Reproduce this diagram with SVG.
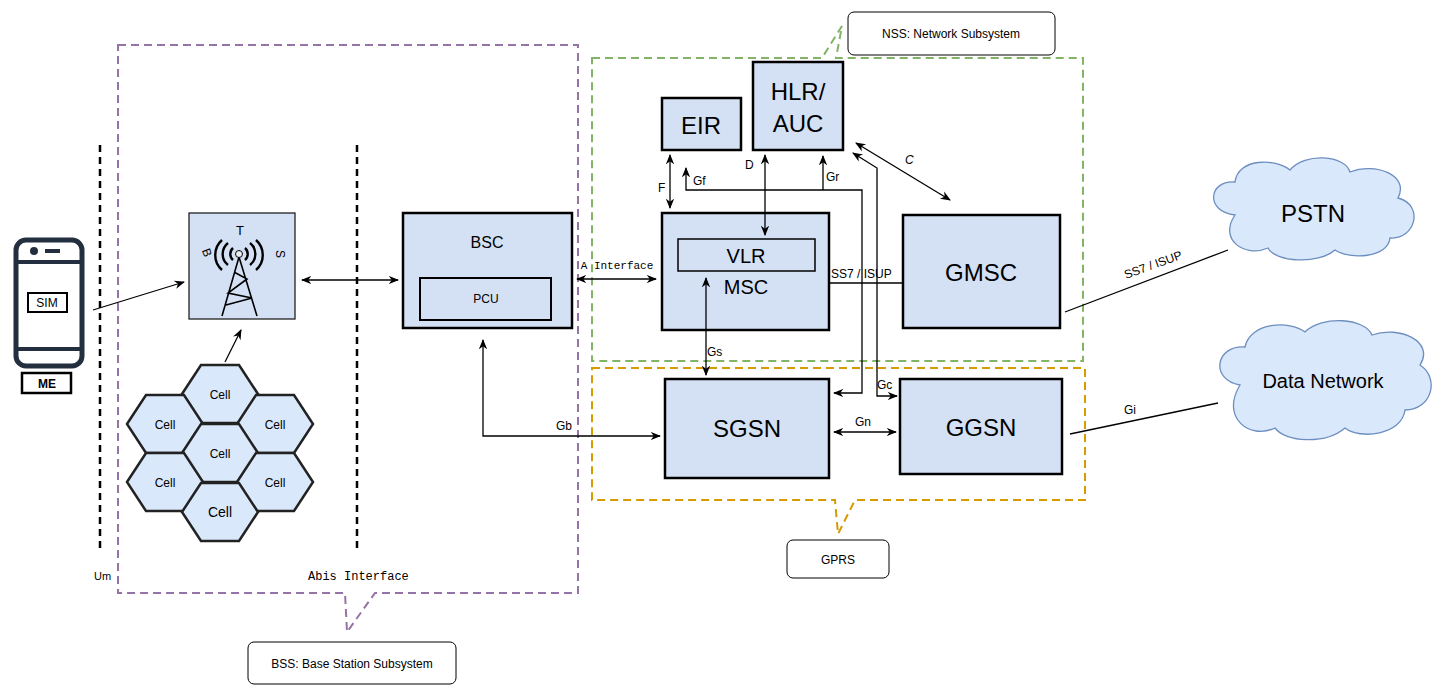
<svg xmlns="http://www.w3.org/2000/svg" width="1448" height="698" viewBox="0 0 1448 698">
<style>
text{font-family:"Liberation Sans",Arial,sans-serif;fill:#000}
.box{fill:#d4e1f5;stroke:#000;stroke-width:2.5}
.hex{fill:#dae8fc;stroke:#222;stroke-width:2.5}
.ln{fill:none;stroke:#000;stroke-width:1.3}
.lbl{fill:#fff;stroke:#000;stroke-width:1}
.mono{font-family:"Liberation Mono","Courier New",monospace}
</style>
<defs>
<marker id="a" viewBox="0 0 10 10" refX="9" refY="5" markerWidth="8" markerHeight="8" orient="auto-start-reverse"><path d="M0,1 L10,5 L0,9 L3,5 Z" fill="#000"/></marker>
</defs>
<rect width="1448" height="698" fill="#fff"/>

<g id="groups">
<path d="M118,45 H578 V593 H375 L347,632 L345,593 H118 Z" fill="none" stroke="#9673a6" stroke-width="2" stroke-dasharray="8,5"/>
<path d="M592,58 H822 L842,26 L836,58 H1083 V361 H592 Z" fill="none" stroke="#82b366" stroke-width="2" stroke-dasharray="8,5"/>
<path d="M592,368 H1085 V500 H855 L838,534 L835,500 H592 Z" fill="none" stroke="#d79b00" stroke-width="2" stroke-dasharray="8,5"/>
<line x1="100" y1="145" x2="100" y2="548" stroke="#000" stroke-width="2.5" stroke-dasharray="7,5"/>
<line x1="357" y1="145" x2="357" y2="548" stroke="#000" stroke-width="2.5" stroke-dasharray="7,5"/>
<text x="94" y="580" font-size="11">Um</text>
<text x="308" y="580" font-size="12" class="mono">Abis Interface</text>
</g>

<g id="label-bss"><rect class="lbl" x="248" y="642" width="208" height="42" rx="6"/><text x="352" y="668" font-size="12" text-anchor="middle">BSS: Base Station Subsystem</text></g>
<g id="label-nss"><rect class="lbl" x="848" y="12" width="207" height="43" rx="6"/><text x="951" y="38" font-size="12" text-anchor="middle">NSS: Network Subsystem</text></g>
<g id="label-gprs"><rect class="lbl" x="787" y="540" width="102" height="38" rx="6"/><text x="838" y="564" font-size="12" text-anchor="middle">GPRS</text></g>

<g id="me">
<rect x="16" y="240" width="66" height="126" rx="10" fill="#fff" stroke="#232f3e" stroke-width="5"/>
<line x1="16" y1="262" x2="82" y2="262" stroke="#232f3e" stroke-width="4"/>
<line x1="16" y1="349" x2="82" y2="349" stroke="#232f3e" stroke-width="4"/>
<circle cx="34" cy="251" r="4" fill="#232f3e"/>
<rect x="45" y="249" width="15" height="4" fill="#232f3e"/>
<rect x="28" y="293" width="39" height="19" fill="#fff" stroke="#000" stroke-width="2"/>
<text x="47" y="307" font-size="12" text-anchor="middle">SIM</text>
<rect x="22" y="373" width="49" height="20" fill="#fff" stroke="#000" stroke-width="2.5"/>
<text x="47" y="388" font-size="12" font-weight="bold" text-anchor="middle">ME</text>
</g>

<g id="bts">
<rect x="189" y="213" width="106" height="106" fill="#d4e1f5" stroke="#222" stroke-width="1.3"/>
<text x="240" y="235" font-size="13" text-anchor="middle">T</text>
<text x="203" y="254" font-size="12" text-anchor="middle" transform="rotate(70 203 254)">B</text>
<text x="276" y="254" font-size="12" text-anchor="middle" transform="rotate(90 276 254)">S</text>
<g fill="none" stroke="#000" stroke-width="2.4">
<path d="M233,248 A8,8 0 0 0 233,260 M245,248 A8,8 0 0 1 245,260"/>
<path d="M228,243 A14,14 0 0 0 228,265 M250,243 A14,14 0 0 1 250,265"/>
<path d="M222,240 A20,20 0 0 0 222,270 M256,240 A20,20 0 0 1 256,270"/>
</g>
<g fill="none" stroke="#000" stroke-width="1.6">
<path d="M239,257 L222,316 M239,257 L257,316 M234,272 L247,279 L228,293 L252,298 L226,305"/>
</g>
<circle cx="239" cy="254" r="3.5" fill="#eee" stroke="#000" stroke-width="1"/>
</g>

<g id="cells" font-size="12" text-anchor="middle">
<g id="cell1"><path class="hex" d="M182,394 L201,365 L239,365 L258,394 L239,423 L201,423 Z"/><text x="220" y="399">Cell</text></g>
<g id="cell2"><path class="hex" d="M127,424 L146,395 L184,395 L203,424 L184,453 L146,453 Z"/><text x="165" y="429">Cell</text></g>
<g id="cell3"><path class="hex" d="M237,424 L256,395 L294,395 L313,424 L294,453 L256,453 Z"/><text x="275" y="429">Cell</text></g>
<g id="cell4"><path class="hex" d="M182,453 L201,424 L239,424 L258,453 L239,482 L201,482 Z"/><text x="220" y="458">Cell</text></g>
<g id="cell5"><path class="hex" d="M127,482 L146,453 L184,453 L203,482 L184,511 L146,511 Z"/><text x="165" y="487">Cell</text></g>
<g id="cell6"><path class="hex" d="M237,482 L256,453 L294,453 L313,482 L294,511 L256,511 Z"/><text x="275" y="487">Cell</text></g>
<g id="cell7"><path class="hex" d="M182,512 L201,483 L239,483 L258,512 L239,541 L201,541 Z"/><text x="220" y="517" font-size="14">Cell</text></g>
</g>

<g id="bsc"><rect class="box" x="403" y="213" width="169" height="115"/><text x="487" y="248" font-size="16" text-anchor="middle">BSC</text>
<rect x="420" y="278" width="131" height="42" fill="#d4e1f5" stroke="#000" stroke-width="2"/><text x="486" y="303" font-size="12" text-anchor="middle">PCU</text></g>
<g id="eir"><rect class="box" x="662" y="98" width="79" height="52"/><text x="701" y="134" font-size="24" text-anchor="middle">EIR</text></g>
<g id="hlr"><rect class="box" x="753" y="62" width="90" height="88"/><text x="798" y="100" font-size="24" text-anchor="middle">HLR/</text><text x="798" y="132" font-size="24" text-anchor="middle">AUC</text></g>
<g id="msc"><rect class="box" x="662" y="213" width="167" height="117"/>
<rect x="678" y="239" width="137" height="32" fill="#d4e1f5" stroke="#000" stroke-width="1.5"/><text x="746" y="263" font-size="20" text-anchor="middle">VLR</text>
<text x="746" y="294" font-size="20" text-anchor="middle">MSC</text></g>
<g id="gmsc"><rect class="box" x="903" y="215" width="157" height="113"/><text x="981" y="281" font-size="24" text-anchor="middle">GMSC</text></g>
<g id="sgsn"><rect class="box" x="665" y="379" width="164" height="99"/><text x="747" y="437" font-size="24" text-anchor="middle">SGSN</text></g>
<g id="ggsn"><rect class="box" x="900" y="379" width="162" height="95"/><text x="981" y="436" font-size="24" text-anchor="middle">GGSN</text></g>

<g id="pstn"><path d="M1235,215 C1205,212 1208,180 1235,182 C1238,158 1275,158 1290,170 C1305,152 1345,155 1350,172 C1375,162 1410,175 1398,198 C1425,205 1415,240 1390,238 C1388,258 1350,260 1335,250 C1318,265 1275,262 1268,248 C1245,258 1218,240 1235,215 Z" fill="#dae8fc" stroke="#6c8ebf" stroke-width="1.3"/><text x="1313" y="222" font-size="24" text-anchor="middle">PSTN</text></g>
<g id="datanet"><path d="M1240,385 C1210,380 1215,345 1245,347 C1250,322 1290,320 1305,332 C1322,315 1365,318 1372,335 C1400,325 1435,342 1420,365 C1440,378 1432,410 1405,410 C1402,435 1360,440 1345,428 C1325,445 1285,442 1275,428 C1250,440 1220,418 1240,385 Z" fill="#dae8fc" stroke="#6c8ebf" stroke-width="1.3"/><text x="1323" y="388" font-size="20" text-anchor="middle">Data Network</text></g>

<g id="connectors" class="ln" font-size="12">
<line class="ln" x1="93" y1="310" x2="184" y2="282" marker-end="url(#a)"/>
<line class="ln" x1="225" y1="362" x2="241" y2="330" marker-end="url(#a)"/>
<line class="ln" x1="302" y1="280" x2="398" y2="280" marker-start="url(#a)" marker-end="url(#a)"/>
<line class="ln" x1="577" y1="279" x2="656" y2="279" marker-start="url(#a)" marker-end="url(#a)"/>
<text x="617" y="269" font-size="11" text-anchor="middle" class="mono" stroke="none">A Interface</text>
<path class="ln" d="M483,340 V436 H660" marker-start="url(#a)" marker-end="url(#a)"/>
<text x="556" y="430" stroke="none">Gb</text>
<line class="ln" x1="670" y1="155" x2="670" y2="208" marker-start="url(#a)" marker-end="url(#a)"/>
<text x="658" y="192" stroke="none">F</text>
<path class="ln" d="M686,168 V190 H862 V393 H834" marker-start="url(#a)" marker-end="url(#a)"/>
<text x="693" y="185" stroke="none">Gf</text>
<path class="ln" d="M823,190 V156" marker-end="url(#a)"/>
<text x="826" y="181" stroke="none">Gr</text>
<line class="ln" x1="765" y1="155" x2="765" y2="235" marker-start="url(#a)" marker-end="url(#a)"/>
<text x="745" y="169" stroke="none">D</text>
<line class="ln" x1="706" y1="278" x2="706" y2="375" marker-start="url(#a)" marker-end="url(#a)"/>
<text x="707" y="356" stroke="none">Gs</text>
<line class="ln" x1="829" y1="283" x2="903" y2="283"/>
<text x="831" y="278" stroke="none">SS7 / ISUP</text>
<line class="ln" x1="856" y1="143" x2="950" y2="200" marker-start="url(#a)" marker-end="url(#a)"/>
<text x="905" y="164" stroke="none" font-style="italic">C</text>
<path class="ln" d="M897,396 H877 V168 L853,153" marker-start="url(#a)" marker-end="url(#a)"/>
<text x="877" y="389" stroke="none">Gc</text>
<line class="ln" x1="834" y1="432" x2="896" y2="432" marker-start="url(#a)" marker-end="url(#a)"/>
<text x="855" y="426" stroke="none">Gn</text>
<line class="ln" x1="1065" y1="312" x2="1228" y2="250"/>
<text x="1126" y="279" stroke="none" transform="rotate(-20 1126 279)">SS7 / ISUP</text>
<line class="ln" x1="1070" y1="434" x2="1218" y2="403"/>
<text x="1124" y="414" stroke="none">Gi</text>
</g>
</svg>
